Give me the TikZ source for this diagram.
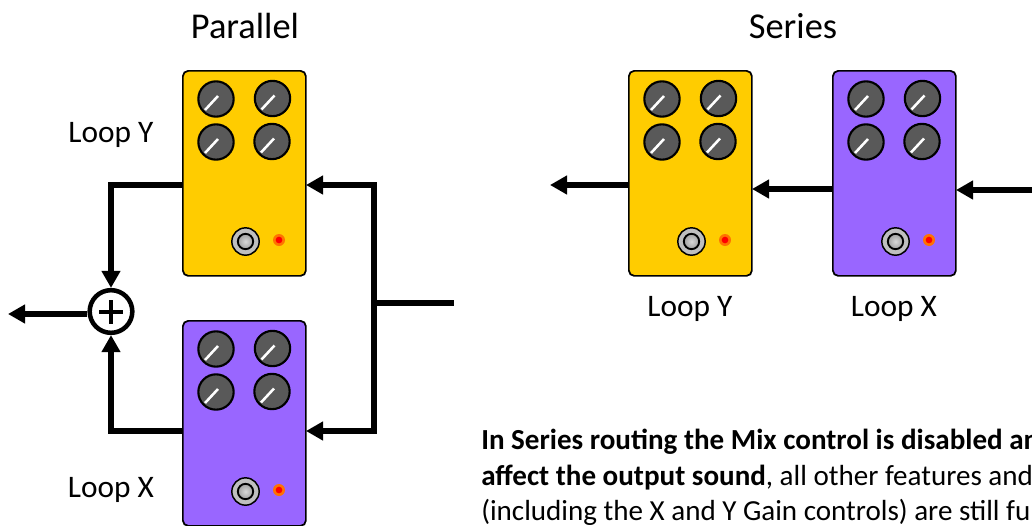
\documentclass[tikz,border=0pt]{standalone}
\usepackage{fontspec}
\setmainfont{Carlito}
\usetikzlibrary{arrows.meta}
\definecolor{pedalY}{RGB}{255,204,0}
\definecolor{pedalX}{RGB}{153,102,255}
\definecolor{knobgray}{RGB}{89,89,89}
\tikzset{
  wire/.style={line width=4.1pt,-{Triangle[length=12.75pt,width=13.5pt]}},
  plainwire/.style={line width=4.1pt},
  pedalbody/.style={draw=black,line width=1.3pt,rounded corners=4pt,minimum width=92.25pt,
    minimum height=153.75pt,inner sep=0pt,anchor=north west},
  knob/.style={circle,draw=black,line width=1.6pt,fill=knobgray,minimum size=26.5pt,inner sep=0pt},
  title/.style={font=\fontsize{27.3}{32}\selectfont},
  looplabel/.style={font=\fontsize{23.5}{28}\selectfont},
  pics/pedal/.style={code={
    \node[pedalbody,fill=#1] (-body) at (0,0) {};
    \foreach \kx/\ky/\kn in {34/29/a,90.5/28.5/b,34/72/c,90/71.5/d}{
      \node[knob] (-knob\kn) at (\kx,\ky) {};
      \draw[white,line width=1.9pt] (\kx-11,\ky+11) -- (\kx+2,\ky-3);
    }
    \node[circle,draw=black,line width=1.1pt,fill=gray!50,minimum size=20.5pt,inner sep=0pt] (-switch) at (63.5,171.5) {};
    \node[circle,draw=black,line width=1.4pt,inner color=gray!30,outer color=gray!75,minimum size=11.5pt,inner sep=0pt] at (-switch) {};
    \node[circle,fill=orange!90!red,minimum size=9pt,inner sep=0pt] (-led) at (97,170) {};
    \node[circle,fill=red,minimum size=5pt,inner sep=0pt] at (-led) {};
  }}
}

\begin{document}
\begin{tikzpicture}[x=0.75pt,y=-0.75pt]
\useasboundingbox (0,0) rectangle (1032,525);
\clip (0,0) rectangle (1032,525);
%---------------- parallel routing (left)
\begin{scope}
\node[title] (parallel) at (245,26) {Parallel};
\pic (pY) at (182,70) {pedal=pedalY};
\pic (pX) at (182,320) {pedal=pedalX};
\node[looplabel] (pYlabel) at (111,135) {Loop Y};
\node[looplabel] (pXlabel) at (111,490) {Loop X};
\node[circle,draw=black,line width=3.4pt,fill=white,minimum size=32pt,inner sep=0pt] (sum) at (111,311.5) {};
\draw[line width=2.6pt] (99,312) -- (123,312) (111,300) -- (111,324);

% named ends of the wires
\coordinate (pYout) at (182,185);
\coordinate (pXout) at (182,431);
\coordinate (pYin) at (306,185);
\coordinate (pXin) at (306,431);
\coordinate (upper) at (374,185);
\coordinate (lower) at (374,431);
\coordinate (tee) at (374,303);
\coordinate (source) at (454,303);
\coordinate (mixout) at (8,314);

\draw[wire] (pYout) -- (sum.north |- pYout) -- (sum.north);
\draw[wire] (pXout) -- (sum.south |- pXout) -- (sum.south);
\draw[wire] (sum.west |- mixout) -- (mixout);
\draw[wire] (upper) -- (pYin);
\draw[wire] (lower) -- (pXin);
\draw[plainwire,line cap=rect] (upper) -- (lower);
\draw[plainwire] (tee) -- (source);
\end{scope}
%---------------- series routing (right)
\begin{scope}
\node[title] (series) at (793,26) {Series};
\pic (sY) at (628,70) {pedal=pedalY};
\pic (sX) at (832,70) {pedal=pedalX};
\node[looplabel] (sYlabel) at (690,309) {Loop Y};
\node[looplabel] (sXlabel) at (894,309) {Loop X};

\coordinate (sYout) at (628,185);
\coordinate (seriesout) at (550,185);
\coordinate (sXout) at (832,189);
\coordinate (sYin) at (752,189);
\coordinate (sXin) at (956,190);
\coordinate (seriesin) at (1032,190);

\draw[wire] (sYout) -- (seriesout);
\draw[wire] (sXout) -- (sYin);
\draw[wire] (seriesin) -- (sXin);
\end{scope}
%---------------- note, runs off the page
\node[anchor=base west,inner sep=0pt,font=\fontsize{21.8}{26}\selectfont] (noteA) at (481,449)
{\textbf{In Series routing the Mix control is disabled and}};
\node[anchor=base west,inner sep=0pt,font=\fontsize{21.8}{26}\selectfont] (noteB) at (481,485)
{\textbf{affect the output sound}, all other features and};
\node[anchor=base west,inner sep=0pt,font=\fontsize{21.8}{26}\selectfont] (noteC) at (481,520.5)
{(including the X and Y Gain controls) are still fully};
\end{tikzpicture}
\end{document}
